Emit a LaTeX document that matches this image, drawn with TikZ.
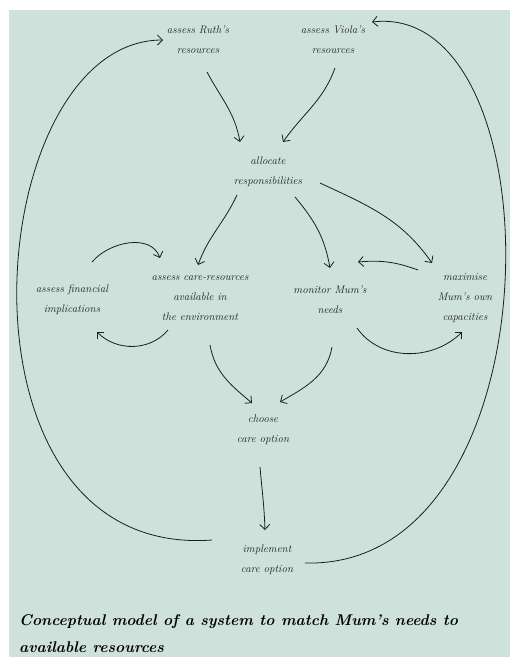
\documentclass[tikz,border=0pt]{standalone}
\usepackage{amsmath}
\usepackage{tikz}
\usetikzlibrary{arrows.meta,positioning,calc}

\definecolor{paper}{RGB}{206,225,219}
\definecolor{ink}{RGB}{30,28,40}

\begin{document}
\begin{tikzpicture}[x=1pt, y=1pt,
    stage/.style={font=\itshape\fontsize{11}{20}\selectfont, text=ink, align=center, inner sep=1pt},
    link/.style={-{Straight Barb[length=5pt,width=10pt]}, line width=0.8pt, ink}]
    % Page and background
    \useasboundingbox (0,0) rectangle (510,-657);
    \fill[paper] (9,-10) rectangle (510,-657);

    % Activities
    \node (ruth) [stage] at (198,-40) {assess Ruth's\\resources};
    \node (viola) [stage] at (333,-40) {assess Viola's\\resources};
    \node (alloc) [stage] at (268,-172) {allocate\\responsibilities};
    \node (fin) [stage] at (72,-300) {assess financial\\implications};
    \node (env) [stage] at (200,-298) {assess care-resources\\available in\\the environment};
    \node (mon) [stage] at (330,-300) {monitor Mum's\\needs};
    \node (max) [stage] at (465,-298) {maximise\\Mum's own\\capacities};
    \node (choose) [stage] at (263,-430) {choose\\care option};
    \node (impl) [stage] at (267,-560) {implement\\care option};

    % Title
    \node (title) [anchor=base west, align=left, inner sep=0pt, text=black,
        font=\bfseries\itshape\fontsize{15.5}{27}\selectfont] at (19,-652)
        {Conceptual model of a system to match Mum's needs to\\available resources};

    % Links
    \draw [link] ([shift={(9,-32)}]ruth.center) to[out=-62, in=100] ([shift={(-28,30)}]alloc.center);
    \draw [link] ([shift={(2,-28)}]viola.center) to[out=-110, in=55] ([shift={(15,30)}]alloc.center);
    \draw [link] ([shift={(-31,-23)}]alloc.center) to[out=-115, in=70] ([shift={(-2,33)}]env.center);
    \draw [link] ([shift={(27,-25)}]alloc.center) to[out=-50, in=100] ([shift={(0,32)}]mon.center);
    \draw [link] ([shift={(52,-11)}]alloc.center) to[out=-25, in=125] ([shift={(-33,35)}]max.center);
    \draw [link] ([shift={(-47,28)}]max.center) to[out=160, in=5] ([shift={(28,38)}]mon.center);
    \draw [link] ([shift={(27,-28)}]mon.center) to[out=-55, in=-135] ([shift={(-3,-34)}]max.center);
    \draw [link] ([shift={(20,38)}]fin.center) to[out=50, in=110] ([shift={(-40,40)}]env.center);
    \draw [link] ([shift={(-32,-32)}]env.center) to[out=-130, in=-45] ([shift={(25,-32)}]fin.center);
    \draw [link] ([shift={(10,-47)}]env.center) to[out=-80, in=140] ([shift={(-11,27)}]choose.center);
    \draw [link] ([shift={(2,-47)}]mon.center) to[out=-100, in=30] ([shift={(17,28)}]choose.center);
    \draw [link] ([shift={(-3,-37)}]choose.center) to[out=-85, in=92] ([shift={(-2,30)}]impl.center);
    % Feedback loops
    \draw [link] ([shift={(-55,20)}]impl.center) .. controls +(-272,-20) and +(-183,0) .. ([shift={(-35,0)}]ruth.center);
    \draw [link] ([shift={(38,-3)}]impl.center) .. controls +(255,-7) and +(188,22) .. ([shift={(39,18)}]viola.center);
\end{tikzpicture}
\end{document}
